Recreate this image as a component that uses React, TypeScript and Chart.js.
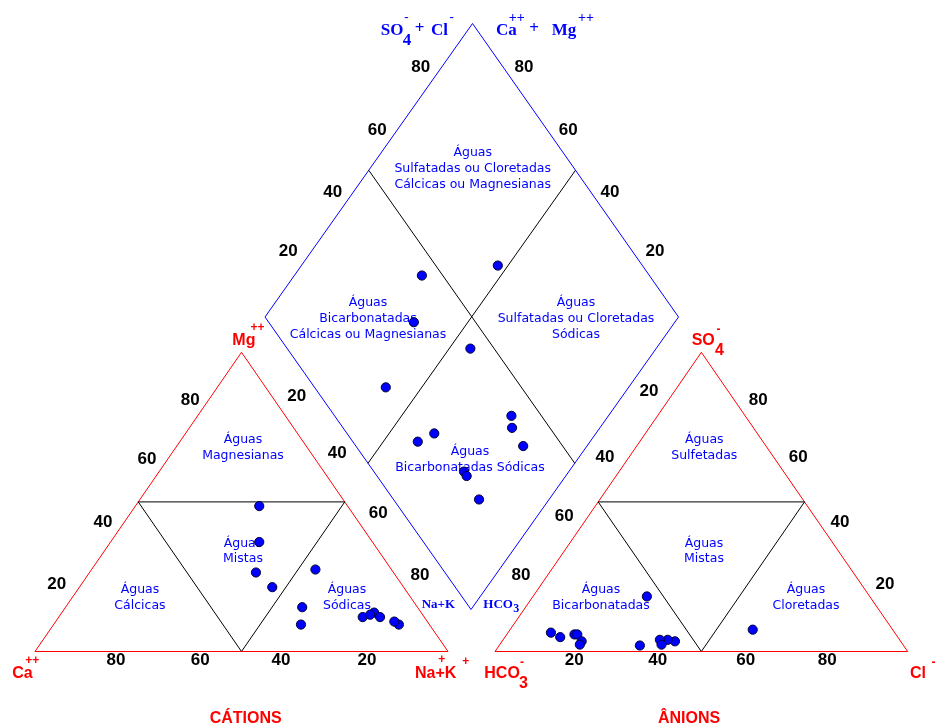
import React, { useEffect, useRef } from 'react';
import { Chart, registerables } from 'chart.js';

Chart.register(...registerables);

// ---------------- DATA (percent of meq/L, 13 samples) ----------------
const caPct = [21.4, 31.8, 27.4, 18.4, 33.3, 27.9, 11.4, 10.7, 7.4, 31.1, 14.9, 12.7, 8.0];
const mgPct = [48.6, 21.5, 36.6, 27.4, 26.4, 14.8, 13.0, 11.5, 9.0, 9.0, 11.5, 12.3, 10.0];
const naKPct = [30.0, 46.7, 36.0, 54.2, 40.3, 57.3, 75.6, 77.8, 83.6, 59.9, 73.6, 75.0, 82.0];
const hco3Pct = [54.0, 33.9, 63.9, 54.7, 81.8, 83.3, 56.2, 58.1, 58.5, 77.9, 77.2, 77.3, 78.3];
const so4Pct = [18.4, 7.3, 2.0, 3.4, 4.8, 6.3, 3.9, 3.9, 2.3, 5.7, 5.7, 3.4, 2.3];
const clPct = [27.6, 58.8, 34.1, 41.9, 13.4, 10.4, 39.9, 38.0, 39.2, 16.4, 17.1, 19.3, 19.4];

const tickLabels = ['20', '40', '60', '80'];

const regionTexts: string[][] = [
  ['Águas', 'Magnesianas'],
  ['Águas', 'Mistas'],
  ['Águas', 'Cálcicas'],
  ['Águas', 'Sódicas'],
  ['Águas', 'Sulfetadas'],
  ['Águas', 'Mistas'],
  ['Águas', 'Bicarbonatadas'],
  ['Águas', 'Cloretadas'],
  ['Águas', 'Sulfatadas ou Cloretadas', 'Cálcicas ou Magnesianas'],
  ['Águas', 'Bicarbonatadas', 'Cálcicas ou Magnesianas'],
  ['Águas', 'Sulfatadas ou Cloretadas', 'Sódicas'],
  ['Águas', 'Bicarbonatadas Sódicas'],
];

// ---------------- LAYOUT (diagram space = canvas pixels) ----------------
const W = 939;
const H = 726;
const CAT = { left: 35, right: 448, base: 651.5, apexY: 352.3 };
const AN = { left: 495, right: 907.7, base: 651.5, apexY: 352.3 };
const DIA = { top: [472.5, 23.5], left: [265, 317], right: [678.5, 317], bottom: [471, 609.5] };
const DIA_PROJ = { x0: 471.4, y0: 616, hw: 206.3, hh: 293.5 };

const regionAnchors = [
  [243, 440], [243, 543.3], [140, 590], [347, 590],
  [704.3, 440], [704, 543.3], [601, 590], [806, 590],
  [472.7, 152.7], [368, 302.7], [576, 302.7], [470, 451.7],
];
const regionLineH = 15.8;

// tick label positions for values 20,40,60,80 in order
const tickGroups = [
  [[367, 660], [281, 660], [200.3, 660], [116, 660]],
  [[56.7, 584.3], [103, 522.3], [147, 459], [190.3, 400]],
  [[296.7, 396], [337.3, 453.3], [378.3, 513.3], [420, 575.7]],
  [[288.3, 251.7], [332.7, 192.7], [377.3, 130.7], [420.7, 67.7]],
  [[655, 251.7], [610, 192.7], [568.3, 130.7], [524, 67.7]],
  [[649, 391], [605, 457.3], [564.3, 516.7], [521, 575.7]],
  [[574.3, 660], [657.7, 660], [745.7, 660], [827.3, 660]],
  [[885, 584.3], [840, 522.3], [798.3, 457.3], [758.3, 400]],
];

type Tri = { left: number; right: number; base: number; apexY: number };
function tern(tri: Tri, rightPct: number, topPct: number) {
  const w = tri.right - tri.left;
  const h = tri.base - tri.apexY;
  return { x: tri.left + (w * (rightPct + topPct / 2)) / 100, y: tri.base - (h * topPct) / 100 };
}
function diamond(caMg: number, so4Cl: number) {
  const a = caMg / 100;
  const b = so4Cl / 100;
  return { x: DIA_PROJ.x0 + DIA_PROJ.hw * (b - a), y: DIA_PROJ.y0 - DIA_PROJ.hh * (a + b) };
}
const pt = (p: number[]) => ({ x: p[0], y: p[1] });
const mid = (p: number[], q: number[]) => ({ x: (p[0] + q[0]) / 2, y: (p[1] + q[1]) / 2 });

const RED = '#FF0000';
const BLUE = '#0000FF';
const BLACK = '#000000';

function lineDs(data: { x: number; y: number }[], color: string) {
  return {
    type: 'scatter' as const,
    data,
    showLine: true,
    borderColor: color,
    backgroundColor: color,
    borderWidth: 1,
    pointRadius: 0,
    tension: 0,
    fill: false,
    order: 2,
    clip: false as any,
  };
}
function pointDs(data: { x: number; y: number }[]) {
  return {
    type: 'scatter' as const,
    data,
    showLine: false,
    backgroundColor: BLUE,
    borderColor: '#000033',
    borderWidth: 1,
    pointRadius: 4.6,
    order: 0,
    clip: false as any,
  };
}

const SANS = '"Liberation Sans", Arial, sans-serif';
const SERIF = '"Liberation Serif", "Times New Roman", serif';

type Part = [string, number, number, string, string, CanvasTextAlign, CanvasTextBaseline];
const labelParts: Part[] = [
  // cations triangle labels
  ['Mg', 232.3, 344.5, `bold 16px ${SANS}`, RED, 'left', 'alphabetic'],
  ['++', 257.5, 327.3, `bold 12px ${SANS}`, RED, 'center', 'middle'],
  ['Ca', 12.3, 677.7, `bold 16px ${SANS}`, RED, 'left', 'alphabetic'],
  ['++', 32.3, 660.7, `bold 12px ${SANS}`, RED, 'center', 'middle'],
  ['Na+K', 415, 677.7, `bold 16px ${SANS}`, RED, 'left', 'alphabetic'],
  ['+', 441.7, 660, `bold 12px ${SANS}`, RED, 'center', 'middle'],
  ['+', 465.7, 661.7, `bold 12px ${SANS}`, RED, 'center', 'middle'],
  ['CÁTIONS', 245.7, 723.3, `bold 16px ${SANS}`, RED, 'center', 'alphabetic'],
  // anions triangle labels
  ['SO', 691.7, 344.5, `bold 16px ${SANS}`, RED, 'left', 'alphabetic'],
  ['4', 715, 355, `bold 16px ${SANS}`, RED, 'left', 'alphabetic'],
  ['-', 718.5, 329.3, `bold 12px ${SANS}`, RED, 'center', 'middle'],
  ['HCO', 484.3, 677.7, `bold 16px ${SANS}`, RED, 'left', 'alphabetic'],
  ['3', 519, 688, `bold 16px ${SANS}`, RED, 'left', 'alphabetic'],
  ['-', 522, 662.5, `bold 12px ${SANS}`, RED, 'center', 'middle'],
  ['Cl', 910, 677.7, `bold 16px ${SANS}`, RED, 'left', 'alphabetic'],
  ['-', 933.5, 662.7, `bold 12px ${SANS}`, RED, 'center', 'middle'],
  ['ÂNIONS', 689, 723.3, `bold 16px ${SANS}`, RED, 'center', 'alphabetic'],
  // diamond titles
  ['SO', 380.7, 35, `bold 17px ${SERIF}`, BLUE, 'left', 'alphabetic'],
  ['4', 402.7, 45, `bold 17px ${SERIF}`, BLUE, 'left', 'alphabetic'],
  ['-', 406.5, 17.3, `bold 13px ${SERIF}`, BLUE, 'center', 'middle'],
  ['+', 419.5, 28.3, `bold 17px ${SERIF}`, BLUE, 'center', 'middle'],
  ['Cl', 431, 35, `bold 17px ${SERIF}`, BLUE, 'left', 'alphabetic'],
  ['-', 451.7, 17.3, `bold 13px ${SERIF}`, BLUE, 'center', 'middle'],
  ['Ca', 496, 35, `bold 17px ${SERIF}`, BLUE, 'left', 'alphabetic'],
  ['++', 516.7, 18.3, `bold 14px ${SERIF}`, BLUE, 'center', 'middle'],
  ['+', 534, 28.3, `bold 17px ${SERIF}`, BLUE, 'center', 'middle'],
  ['Mg', 551.7, 35, `bold 17px ${SERIF}`, BLUE, 'left', 'alphabetic'],
  ['++', 586, 18.3, `bold 14px ${SERIF}`, BLUE, 'center', 'middle'],
  ['Na+K', 421.7, 607.5, `bold 13px ${SERIF}`, BLUE, 'left', 'alphabetic'],
  ['HCO', 483.3, 607.5, `bold 13px ${SERIF}`, BLUE, 'left', 'alphabetic'],
  ['3', 513.3, 611.7, `bold 12px ${SERIF}`, BLUE, 'left', 'alphabetic'],
];

const textPlugin = {
  id: 'piperText',
  beforeDatasetsDraw(chart: any) {
    const ctx: CanvasRenderingContext2D = chart.ctx;
    const sx = (v: number) => chart.scales.x.getPixelForValue(v);
    const sy = (v: number) => chart.scales.y.getPixelForValue(v);
    ctx.save();
    // region names
    ctx.font = `12.5px "DejaVu Sans", Verdana, sans-serif`;
    ctx.fillStyle = BLUE;
    ctx.textAlign = 'center';
    ctx.textBaseline = 'middle';
    regionTexts.forEach((lines, i) => {
      const [ax, ay] = regionAnchors[i];
      lines.forEach((ln, j) => ctx.fillText(ln, sx(ax), sy(ay + j * regionLineH)));
    });
    // tick labels
    ctx.font = `bold 17px ${SANS}`;
    ctx.fillStyle = BLACK;
    tickGroups.forEach((g) => {
      g.forEach((p, k) => ctx.fillText(tickLabels[k], sx(p[0]), sy(p[1])));
    });
    // axis / ion labels
    labelParts.forEach(([t, x, y, font, color, align, base]) => {
      ctx.font = font;
      ctx.fillStyle = color;
      ctx.textAlign = align;
      ctx.textBaseline = base;
      ctx.fillText(t, sx(x), sy(y));
    });
    ctx.restore();
  },
};

export default function App() {
  const ref = useRef<HTMLCanvasElement>(null);
  useEffect(() => {
    if (!ref.current) return;
    const catPts = caPct.map((_, i) => tern(CAT, naKPct[i], mgPct[i]));
    const anPts = hco3Pct.map((_, i) => tern(AN, clPct[i], so4Pct[i]));
    const diaPts = caPct.map((_, i) => diamond(caPct[i] + mgPct[i], so4Pct[i] + clPct[i]));

    const catOutline = [tern(CAT, 0, 0), tern(CAT, 100, 0), tern(CAT, 0, 100), tern(CAT, 0, 0)];
    const catInner = [tern(CAT, 0, 50), tern(CAT, 50, 50), tern(CAT, 50, 0), tern(CAT, 0, 50)];
    const anOutline = [tern(AN, 0, 0), tern(AN, 100, 0), tern(AN, 0, 100), tern(AN, 0, 0)];
    const anInner = [tern(AN, 0, 50), tern(AN, 50, 50), tern(AN, 50, 0), tern(AN, 0, 50)];
    const diaOutline = [pt(DIA.top), pt(DIA.right), pt(DIA.bottom), pt(DIA.left), pt(DIA.top)];
    const diaInner1 = [mid(DIA.top, DIA.left), mid(DIA.right, DIA.bottom)];
    const diaInner2 = [mid(DIA.top, DIA.right), mid(DIA.left, DIA.bottom)];

    const chart = new Chart(ref.current, {
      type: 'scatter',
      data: {
        datasets: [
          pointDs(catPts),
          pointDs(anPts),
          pointDs(diaPts),
          lineDs(catInner, BLACK),
          lineDs(anInner, BLACK),
          lineDs(diaInner1, BLACK),
          lineDs(diaInner2, BLACK),
          lineDs(catOutline, RED),
          lineDs(anOutline, RED),
          lineDs(diaOutline, BLUE),
        ] as any,
      },
      options: {
        animation: false,
        responsive: false,
        events: [],
        layout: { padding: 0, autoPadding: false },
        scales: {
          x: { type: 'linear', min: 0, max: W, display: false },
          y: { type: 'linear', min: 0, max: H, reverse: true, display: false },
        },
        plugins: {
          legend: { display: false },
          tooltip: { enabled: false },
        },
      },
      plugins: [textPlugin],
    });
    return () => chart.destroy();
  }, []);

  return (
    <div style={{ position: 'fixed', left: 0, top: 0, width: W, height: H, background: '#fff' }}>
      <canvas ref={ref} width={W} height={H} style={{ display: 'block' }} />
    </div>
  );
}
